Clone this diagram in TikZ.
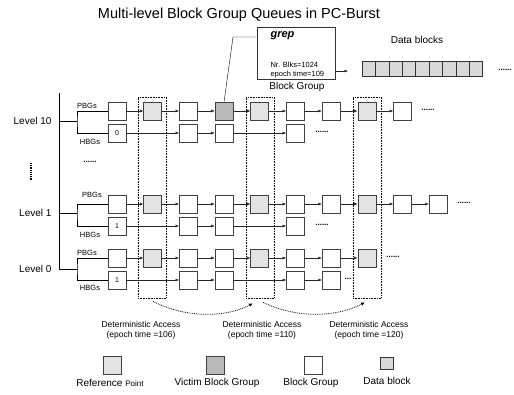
\documentclass[tikz,border=0pt]{standalone}
\usepackage{fontspec}
\setmainfont{Liberation Sans}
\usetikzlibrary{arrows.meta, positioning}

\begin{document}
\begin{tikzpicture}[x=1pt, y=-1pt,
  bg/.style={draw=black!75, line width=0.8pt, minimum size=18pt, inner sep=0pt, fill=white, font=\fontsize{7}{8}\selectfont},
  refpt/.style={bg, fill=gray!22},
  victim/.style={bg, fill=gray!55},
  cell/.style={draw=black!80, line width=0.6pt, minimum width=13.4pt, minimum height=15pt, inner sep=0pt, fill=gray!30},
  link/.style={-{Latex[length=3.5pt,width=3pt]}, line width=0.5pt, black!85},
  tag/.style={font=\fontsize{7.5}{9}\selectfont},
  lvl/.style={font=\fontsize{10}{12}\selectfont, anchor=east},
  more/.style={font=\bfseries\fontsize{8}{9}\selectfont},
  win/.style={draw, densely dotted, line width=0.6pt, minimum width=28pt, minimum height=201pt, inner sep=0pt},
  note/.style={font=\fontsize{8.5}{10}\selectfont, align=center},
  key/.style={font=\fontsize{10}{12}\selectfont}
]
\useasboundingbox (0,0) rectangle (514,394);

% title
\node[font=\fontsize{14.5}{17}\selectfont] (title) at (239,15) {Multi-level Block Group Queues in PC-Burst};

% reference point windows
\node[win] (w1) at (152,197.5) {};
\node[win] (w2) at (260,197.5) {};
\node[win] (w3) at (367,197.5) {};

% level 10
\foreach \i/\s in {1/bg,2/refpt,3/bg,4/victim,5/refpt,6/bg,7/bg,8/refpt,9/bg}
  \node[\s] (a\i) at ({117+35.7*(\i-1)},111) {};
\foreach \i/\s in {3/bg,4/bg,6/bg}
  \node[\s] (b\i) at ({117+35.7*(\i-1)},133) {};
\node[bg] (b1) at (117,133) {0};
\foreach \i [count=\j from 2] in {1,...,8}
  \draw[link] (a\i) -- (a\j);
\foreach \p/\q in {1/3,3/4,4/6}
  \draw[link] (b\p) -- (b\q);
\node[more] (adots) at (428,110) {......};
\node[more] (bdots) at (322,132) {......};

% level 1
\foreach \i/\s in {1/bg,2/refpt,3/bg,4/bg,5/refpt,6/bg,7/bg,8/refpt,9/bg,10/bg}
  \node[\s] (c\i) at ({117+35.7*(\i-1)},204) {};
\foreach \i/\s in {3/bg,4/bg,6/bg}
  \node[\s] (d\i) at ({117+35.7*(\i-1)},226) {};
\node[bg] (d1) at (117,226) {1};
\foreach \i [count=\j from 2] in {1,...,9}
  \draw[link] (c\i) -- (c\j);
\foreach \p/\q in {1/3,3/4,4/6}
  \draw[link] (d\p) -- (d\q);
\node[more] (cdots) at (464,203) {......};
\node[more] (ddots) at (322,225) {......};

% level 0
\foreach \i/\s in {1/bg,2/refpt,3/bg,4/bg,5/refpt,6/bg,7/bg,8/refpt}
  \node[\s] (e\i) at ({117+35.7*(\i-1)},258) {};
\foreach \i/\s in {3/bg,4/bg,6/bg,7/bg}
  \node[\s] (f\i) at ({117+35.7*(\i-1)},280) {};
\node[bg] (f1) at (117,280) {1};
\foreach \i [count=\j from 2] in {1,...,7}
  \draw[link] (e\i) -- (e\j);
\foreach \p/\q in {1/3,3/4,4/6,6/7}
  \draw[link] (f\p) -- (f\q);
\node[more] (edots) at (393,257) {......};
\node[more] (fdots) at (348,279) {...};

% levels and forks
\coordinate (top) at (59,93);
\coordinate (bot) at (59,269);
\draw (top) -- (bot);
\node[lvl] (l10) at (55,121) {Level 10};
\node[lvl] (l1) at (55,213) {Level 1};
\node[lvl] (l0) at (55,269) {Level 0};
\draw (top |- l10) -- (77,121);
\draw (a1.west) -| (77,121) |- (b1.west);
\draw (top |- l1) -- (77,213);
\draw (c1.west) -| (77,213) |- (d1.west);
\draw (bot) -- (77,269);
\draw (e1.west) -| (77,269) |- (f1.west);
\node[tag] (p10) at (87,106) {PBGs};
\node[tag] (h10) at (90,142) {HBGs};
\node[tag] (p1) at (92,195) {PBGs};
\node[tag] (h1) at (90,235) {HBGs};
\node[tag] (p0) at (87,253) {PBGs};
\node[tag] (h0) at (90,288) {HBGs};
\node[more] (hdots) at (90,162) {......};
\draw[densely dotted, line width=1.2pt] (31,163) -- (31,180);

% victim block group detail
\node[draw=black!80, line width=0.8pt, minimum width=78pt, minimum height=52pt] (grep) at (296,53) {};
\node[font=\bfseries\itshape\fontsize{11}{13}\selectfont, anchor=west] (gname) at (267,36) {grep};
\node[tag, anchor=west, align=left] (ginfo) at (267,70) {Nr. Blks=1024\\epoch time=109};
\coordinate (bend) at (233,37);
\draw (a4.north) -- (bend) -- (bend -| grep.west);
\node[key] (bglabel) at (297,87) {Block Group};
\coordinate (gout) at (348,71);
\draw[link] (gout -| grep.east) -- (gout);
\node[key] (dlabel) at (417,40) {Data blocks};
\foreach \i in {1,...,9}
  \node[cell] (db\i) at ({355.3+13.4*\i},68.5) {};
\node[more] (dbdots) at (505,70) {......};

% deterministic accesses
\draw[densely dotted, line width=0.8pt, -{Latex[length=4pt,width=3.5pt]}] ([xshift=1pt,yshift=-3pt]w1.south) .. controls (185,318) and (225,318) .. ([xshift=-7pt,yshift=-5pt]w2.south);
\draw[densely dotted, line width=0.8pt, -{Latex[length=4pt,width=3.5pt]}] ([xshift=3pt,yshift=-4pt]w2.south) .. controls (295,318) and (335,318) .. ([xshift=-2pt,yshift=-4pt]w3.south);
\node[note] (acc1) at (141,330) {Deterministic Access\\(epoch time =106)};
\node[note] (acc2) at (262,330) {Deterministic Access\\(epoch time =110)};
\node[note] (acc3) at (369,330) {Deterministic Access\\(epoch time =120)};

% legend
\node[refpt] (kref) at (112,365) {};
\node[victim] (kvic) at (215,365) {};
\node[bg] (kbg) at (313,365) {};
\node[cell, minimum width=13pt, minimum height=12pt] (kdb) at (386.5,363) {};
\node[key] (tref) at (110,383) {Reference {\fontsize{8}{10}\selectfont Point}};
\node[key] (tvic) at (217,383) {Victim Block Group};
\node[key] (tbg) at (311,383) {Block Group};
\node[key] (tdb) at (387,381) {Data block};
\end{tikzpicture}
\end{document}
